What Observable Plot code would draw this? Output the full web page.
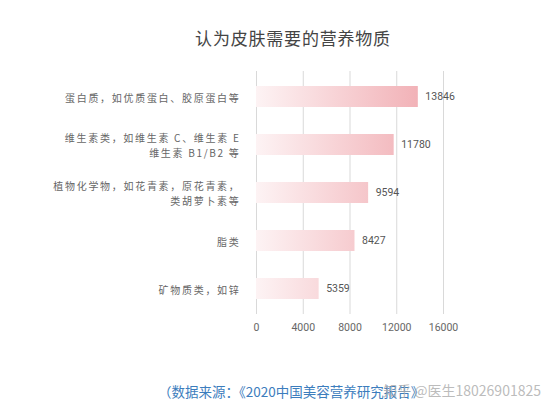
<!DOCTYPE html>
<html>
<head>
<meta charset="utf-8">
<script src="https://cdn.jsdelivr.net/npm/d3@7"></script>
<script src="https://cdn.jsdelivr.net/npm/@observablehq/plot@0.6"></script>
<style>
  html, body { margin: 0; padding: 0; background: #fff; }
  body { width: 556px; height: 414px; overflow: hidden; position: relative;
         font-family: "Noto Sans CJK SC", "Noto Sans", sans-serif; }
  #title { height: 58px; box-sizing: border-box; padding-top: 27px; padding-left: 30px;
           text-align: center; font-size: 17px; line-height: 22px; color: #444; letter-spacing: 0.8px; }
  #chart svg { display: block; }
  g[aria-label="y-axis tick label"] text { letter-spacing: 1.7px; }
  #caption { position: absolute; left: 158px; top: 381px; font-size: 13.5px; line-height: 20px;
             color: #3c7dbd; white-space: nowrap; }
  #watermark { position: absolute; right: 15px; top: 380px; font-size: 14px; line-height: 20px;
               color: rgba(170,170,170,0.8); white-space: nowrap; }
</style>
</head>
<body>
<div id="title">认为皮肤需要的营养物质</div>
<div id="chart"></div>
<div id="caption">（数据来源：《2020中国美容营养研究报告》</div>
<div id="watermark">知乎 @医生18026901825</div>
<script>
const categories = [
  "蛋白质，如优质蛋白、胶原蛋白等",
  "维生素类，如维生素 C、维生素 E\n维生素 B1/B2 等",
  "植物化学物，如花青素，原花青素，\n类胡萝卜素等",
  "脂类",
  "矿物质类，如锌"
];
const values = [13846, 11780, 9594, 8427, 5359];
const xTicks = [0, 4000, 8000, 12000, 16000];

const data = categories.map((c, i) => ({category: c, value: values[i]}));

const gradientDefs = (index, scales) => {
  const ns = "http://www.w3.org/2000/svg";
  const defs = document.createElementNS(ns, "defs");
  const lg = document.createElementNS(ns, "linearGradient");
  lg.setAttribute("id", "barGrad");
  lg.setAttribute("gradientUnits", "userSpaceOnUse");
  lg.setAttribute("x1", scales.x(0));
  lg.setAttribute("x2", scales.x(16000));
  lg.setAttribute("y1", 0);
  lg.setAttribute("y2", 0);
  [["0%", "#fdf3f4"], ["100%", "#f0a8ae"]].forEach(([o, c]) => {
    const s = document.createElementNS(ns, "stop");
    s.setAttribute("offset", o);
    s.setAttribute("stop-color", c);
    lg.appendChild(s);
  });
  defs.appendChild(lg);
  return defs;
};

const chart = Plot.plot({
  width: 556,
  height: 300,
  marginTop: 13,
  marginBottom: 44,
  marginLeft: 256,
  marginRight: 113,
  style: {fontFamily: "'Noto Sans CJK SC', 'Noto Sans', sans-serif", color: "#666", background: "#fff"},
  x: {domain: [0, 16000], label: null},
  y: {domain: categories, paddingInner: 0.56, paddingOuter: 0.28, label: null},
  marks: [
    gradientDefs,
    Plot.gridX(xTicks, {stroke: "#d9d9d9", strokeOpacity: 1, strokeWidth: 1}),
    Plot.barX(data, {x: "value", y: "category", fill: "url(#barGrad)"}),
    Plot.text(data, {x: "value", y: "category", text: d => String(d.value), textAnchor: "start",
                     dx: 7, fontSize: 10.5, fill: "#555", fontFamily: "Roboto, sans-serif"}),
    Plot.axisX({ticks: xTicks, tickSize: 0, tickPadding: 9, fontSize: 10.5, tickFormat: d => String(d),
                fill: "#666", fontFamily: "Roboto, sans-serif", label: null}),
    Plot.axisY({tickSize: 0, tickPadding: 16, fontSize: 10, lineHeight: 1.44, fill: "#666", label: null})
  ]
});
document.getElementById("chart").appendChild(chart);
</script>
</body>
</html>
